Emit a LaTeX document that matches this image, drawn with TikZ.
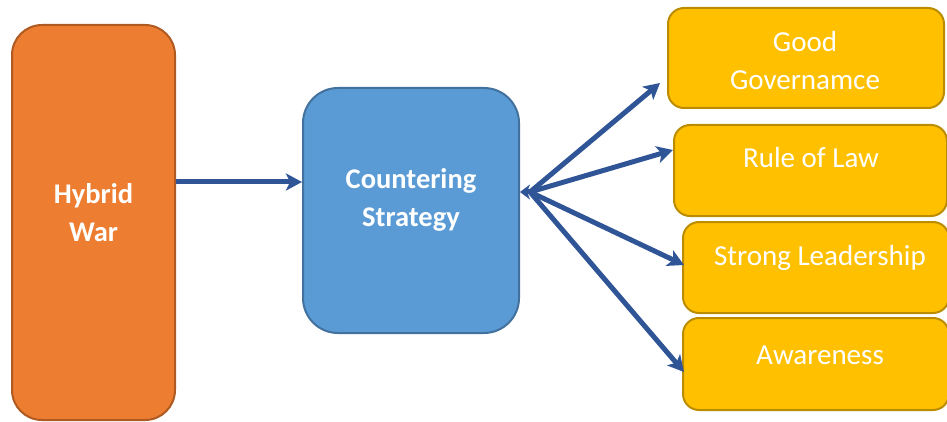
\documentclass[tikz,border=0pt]{standalone}
\usepackage{fontspec}
\setmainfont{Carlito}
\usetikzlibrary{arrows.meta,calc}
\definecolor{orfill}{HTML}{ED7D31}
\definecolor{ordraw}{HTML}{AE5A21}
\definecolor{blfill}{HTML}{5B9BD5}
\definecolor{bldraw}{HTML}{41719C}
\definecolor{yefill}{HTML}{FFC000}
\definecolor{yedraw}{HTML}{BC8C00}
\definecolor{arfill}{HTML}{4472C4}
\definecolor{ardraw}{HTML}{2F5597}
\tikzset{
  box/.style={draw, line width=2pt, inner sep=0pt},
  obox/.style={box, fill=orfill, draw=ordraw, rounded corners=30pt},
  bbox/.style={box, fill=blfill, draw=bldraw, rounded corners=35pt},
  ybox/.style={box, fill=yefill, draw=yedraw, rounded corners=16pt},
  btext/.style={text=white, font=\fontsize{28.5}{38}\selectfont\bfseries, align=center, inner sep=0pt},
  ytext/.style={text=white, font=\fontsize{29}{38}\selectfont, align=center, inner sep=0pt},
  arr/.style={draw=ardraw, line width=5pt, -{Stealth[length=16pt,width=17pt,inset=4pt]}},
}
\begin{document}
\begin{tikzpicture}[x=1pt,y=-1pt]
\useasboundingbox (0,0) rectangle (947,422);
% boxes
\node[obox, minimum width=163pt, minimum height=395pt] (hw) at (93.5,222.5) {};
\node[btext] (hwt) at (93.5,213) {Hybrid\\War};
\node[bbox, minimum width=216pt, minimum height=245pt] (cs) at (411,210.5) {};
\node[btext] (cst) at (411,200) {Countering\\Strategy};
\node[ybox, minimum width=276pt, minimum height=100pt] (g1) at (806,58) {};
\node[ytext] (g1t) at (805,61) {Good\\Governamce};
\node[ybox, minimum width=273pt, minimum height=91pt] (g2) at (810.5,170.5) {};
\node[ytext] (g2t) at (811,158) {Rule of Law};
\node[ybox, minimum width=266pt, minimum height=91pt] (g3) at (816,267.5) {};
\node[ytext] (g3t) at (820,258) {Strong Leadership};
\node[ybox, minimum width=266pt, minimum height=92pt] (g4) at (816,364) {};
\node[ytext] (g4t) at (820,355) {Awareness};
% connectors
\coordinate (hub) at (530,192);
\coordinate (e1) at (660,83);
\coordinate (e2) at (673,150);
\coordinate (e3) at (684,265);
\coordinate (e4) at (684,372);
\draw[arr] (hw.east |- 0,182) -- (cs.west |- 0,182);
\draw[arr] (hub) -- (e1);
\draw[arr] (hub) -- (e2);
\draw[arr] (hub) -- (e3);
\draw[arr] (hub) -- (e4);
\draw[arr, -{Stealth[length=10pt,width=15pt,inset=3pt]}] (hub) -- (cs.east |- hub);
\end{tikzpicture}
\end{document}
